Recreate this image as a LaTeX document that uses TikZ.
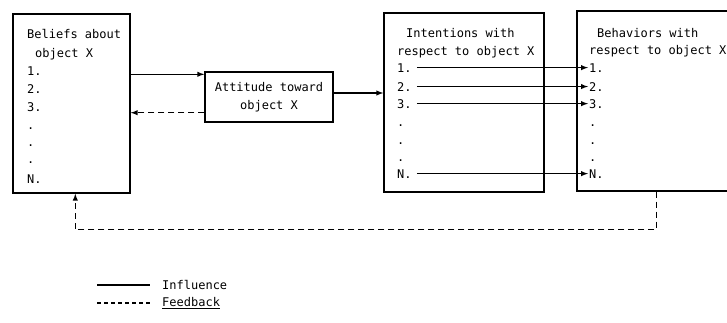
\documentclass[tikz,border=0pt]{standalone}
\usepackage{fontspec}
\setmonofont{DejaVu Sans Mono}
\usepackage{tikz}
\usetikzlibrary{arrows,calc}

\tikzset{
  box/.style={draw,line width=1.4pt,inner sep=0pt},
  item/.style={anchor=base west,inner sep=0pt},
  infl/.style={line width=1.4pt,-latex},
  fb/.style={line width=1.4pt,dash pattern=on 6pt off 4pt,-latex},
}

\begin{document}
\begin{tikzpicture}[x=1pt,y=-1pt,font=\ttfamily\fontsize{12}{18}\selectfont]
  \useasboundingbox (0,0) rectangle (727,322);
  \clip (0,0) rectangle (727,322);
  % the four boxes
  \node[box,minimum width=117pt,minimum height=179pt] (beliefs) at (71.5,103.5) {};
  \node[box,minimum width=128pt,minimum height=50pt,align=center] (att) at (269,97) {Attitude toward\\object X};
  \node[box,minimum width=160pt,minimum height=179pt] (intent) at (464,102.5) {};
  \node[box,minimum width=183pt,minimum height=180pt] (behav) at (668.5,101) {};

  % headings
  \node[item] (belA) at (27,38) {Beliefs about};
  \node[item] (belB) at (35,57) {object X};
  \node[item] (intA) at (406,37) {Intentions with};
  \node[item] (intB) at (397,55) {respect to object X};
  \node[item] (behA) at (597,37) {Behaviors with};
  \node[item] (behB) at (589,54) {respect to object X};

  % numbered entries
  \foreach \t/\y [count=\i] in {1./75,2./93,3./111,./129,./146,./163,N./183}
    \node[item] (bel\i) at (27,\y) {\t};
  \foreach \t/\y [count=\i] in {1./72,2./91,3./108,./126,./144,./161,N./178}{
    \node[item] (int\i) at (397,\y) {\t};
    \node[item] (beh\i) at (589,\y) {\t};
  }

  % influence and feedback between boxes
  \coordinate (attin) at ($(att.north west)+(0,3)$);
  \coordinate (attfb) at ($(att.south west)+(0,-10)$);
  \coordinate (attout) at ($(att.east)+(0,-4)$);
  \draw[infl] (beliefs.east |- attin) -- (attin);
  \draw[fb] (attfb) -- (beliefs.east |- attfb);
  \draw[infl] (attout) -- (intent.west |- attout);
  \foreach \i in {1,2,3,7}
    \draw[infl,shorten <=5pt,shorten >=1pt] (int\i.east) -- (beh\i.west);

  \coordinate (behfb) at ($(behav.south west)+(80,0)$);
  \coordinate (belfb) at ($(beliefs.south west)+(63,0)$);
  \draw[fb] (behfb) -- ++(0,38) -| (belfb);

  % legend
  \coordinate (infA) at (97,285);
  \coordinate (infB) at (150,285);
  \coordinate (fbA) at (97,303);
  \coordinate (fbB) at (150,303);
  \draw[line width=1.4pt] (infA) -- (infB);
  \draw[line width=1.4pt,dash pattern=on 4pt off 3pt] (fbA) -- (fbB);
  \node[anchor=west,inner sep=0pt] (inftxt) at (162,285) {Influence};
  \node[anchor=west,inner sep=0pt] (fbtxt) at (162,303) {\underline{Feedback}};
\end{tikzpicture}
\end{document}
